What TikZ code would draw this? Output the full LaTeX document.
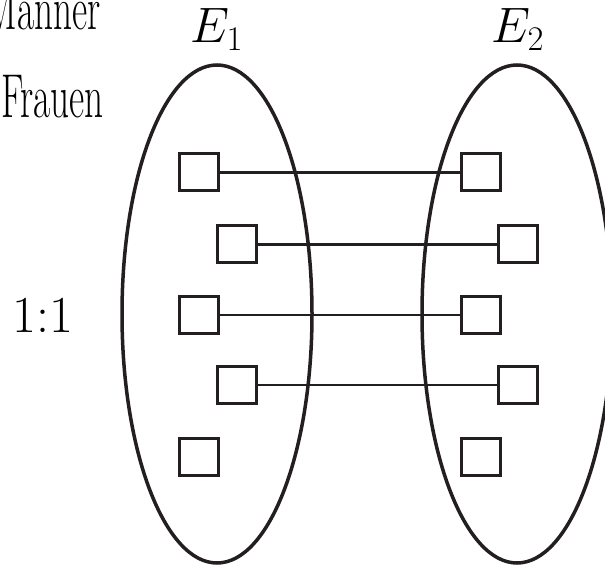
\documentclass[tikz,border=0pt]{standalone}
\usepackage{amsmath}
\usepackage{xcolor}
\usepackage{tikz}
\definecolor{primary}{RGB}{35, 31, 32}

\begin{document}
\begin{tikzpicture}[x=1pt,y=-1pt,
  entity/.style={draw=primary,line width=3pt,minimum width=39pt,minimum height=37pt,inner sep=0pt},
  pairline/.style={primary,line width=3pt},
  pairthin/.style={primary,line width=2pt},
  setlabel/.style={inner sep=0pt,anchor=base,font=\fontsize{24}{28}\selectfont},
  sidelabel/.style={inner sep=0pt,anchor=base east,xscale=0.6,font=\fontsize{62}{70}\selectfont}]
\clip (0,0) rectangle (605,567);
\draw[primary,line width=3.5pt] (217,314) ellipse (95 and 249);
\draw[primary,line width=3.5pt] (517,314) ellipse (95 and 249);
\node[setlabel] (e1) at (217,43) {\scalebox{2}{$E_1$}};
\node[setlabel] (e2) at (518,43) {\scalebox{2}{$E_2$}};
\node[sidelabel] (maenner) at (101,30) {Männer};
\node[sidelabel] (frauen) at (104,118) {Frauen};
\node[setlabel,font=\fontsize{52}{60}\selectfont] (ratio) at (43,332) {1:1};
\node[entity] (m1) at (199,172) {};
\node[entity] (m2) at (237,244) {};
\node[entity] (m3) at (199,315) {};
\node[entity] (m4) at (237,385) {};
\node[entity] (m5) at (199,457) {};
\node[entity] (f1) at (481,172) {};
\node[entity] (f2) at (518,244) {};
\node[entity] (f3) at (481,315) {};
\node[entity] (f4) at (518,385) {};
\node[entity] (f5) at (481,457) {};
\draw[pairline] (m1) -- (f1);
\draw[pairline] (m2) -- (f2);
\draw[pairthin] (m3) -- (f3);
\draw[pairthin] (m4) -- (f4);
\end{tikzpicture}
\end{document}
